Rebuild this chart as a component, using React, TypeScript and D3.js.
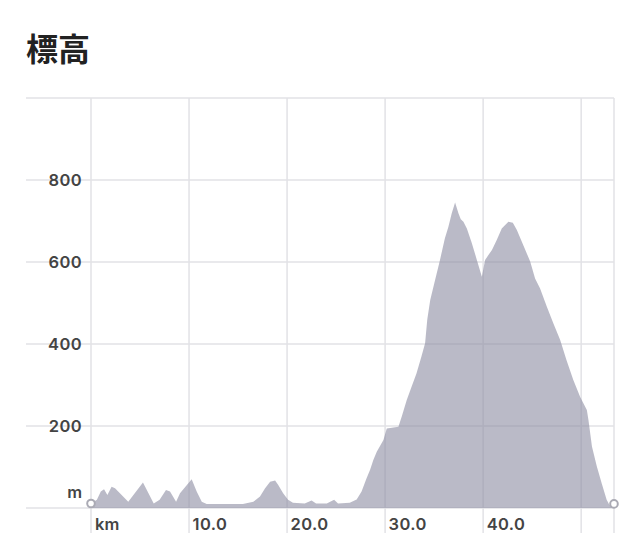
import React from "react";
import * as d3 from "d3";

const distanceKm = [0, 0.6, 1.0, 1.33, 1.67, 2.1, 2.45, 3.8, 5.3, 6.4, 7.0, 7.65, 8.06, 8.68, 9.08, 10.27, 10.78, 11.3, 11.8, 13.3, 15.5, 16.56, 17.24, 17.76, 18.27, 18.78, 19.1, 19.6, 20.1, 20.6, 21.8, 22.5, 22.96, 24.05, 24.8, 25.2, 26.4, 27.1, 27.6, 28.1, 28.47, 28.8, 29.15, 29.83, 30.17, 31.36, 31.7, 32.2, 32.7, 33.2, 33.7, 34.08, 34.3, 34.6, 34.77, 35.1, 35.6, 36.1, 36.46, 36.8, 37.14, 37.48, 37.72, 37.99, 38.34, 38.85, 39.36, 39.87, 40.2, 40.54, 40.9, 41.4, 41.9, 42.58, 43.03, 43.44, 44.1, 44.8, 45.3, 45.8, 46.5, 47.17, 47.86, 48.5, 49.2, 49.9, 50.58, 50.74, 51.1, 51.6, 52.1, 52.6, 52.9, 53.35];
const elevationM = [11, 20, 40, 46, 32, 52, 48, 15, 62, 11, 20, 44, 40, 15, 36, 70, 40, 15, 10, 10, 10, 15, 28, 48, 64, 67, 56, 36, 20, 13, 11, 18, 11, 11, 20, 11, 13, 21, 40, 72, 93, 117, 137, 166, 194, 198, 223, 263, 296, 328, 369, 402, 459, 507, 524, 556, 605, 658, 686, 719, 745, 719, 704, 698, 682, 646, 605, 564, 605, 617, 629, 654, 682, 698, 696, 678, 641, 601, 560, 536, 491, 450, 410, 361, 312, 271, 239, 215, 150, 101, 60, 20, 7, 10];

const yTicks = [200, 400, 600, 800, 1000];
const yTickLabels = ["200", "400", "600", "800", ""];
const xTicks = [10, 20, 30, 40, 50];
const xTickLabels = ["10.0", "20.0", "30.0", "40.0", ""];
const title = "標高";
const xUnit = "km";
const yUnit = "m";

export default function App() {
  const W = 640, H = 558;
  const x = d3.scaleLinear().domain([0, 53.35]).range([91, 614]);
  const y = d3.scaleLinear().domain([0, 1000]).range([508, 98]);
  const pts = distanceKm.map((d, i) => [d, elevationM[i]] as [number, number]);
  const area = d3.area<[number, number]>().x(d => x(d[0])).y0(y(0)).y1(d => y(d[1]));
  const gridColor = "#e2e2e6";
  const labelFont = "Inter, 'Noto Sans', sans-serif";
  const fs = 16.5;
  const first = pts[0], last = pts[pts.length - 1];
  return (
    <div style={{ position: "absolute", left: 0, top: 0 }}>
      <svg width={W} height={H} style={{ display: "block" }}>
        <rect width={W} height={H} fill="#fff" />
        <text x={26} y={61} fontFamily="'Noto Sans CJK JP', sans-serif" fontWeight={700} fontSize={32} fill="#222">{title}</text>
        {[0, ...yTicks].map(t => (
          <line key={"h" + t} x1={26} x2={614} y1={y(t)} y2={y(t)} stroke={gridColor} strokeWidth={1.5} />
        ))}
        {[0, ...xTicks, 53.35].map(t => (
          <line key={"v" + t} x1={x(t)} x2={x(t)} y1={y(1000)} y2={533} stroke={gridColor} strokeWidth={1.5} />
        ))}
        <path d={area(pts) || ""} fill="#8c8ca2" fillOpacity={0.6} />
        {yTicks.map((t, i) => (
          <text key={"yl" + t} x={82} y={y(t)} dy="0.36em" textAnchor="end" fontFamily={labelFont} fontWeight={600} fontSize={fs} letterSpacing={0.4} fill="#444">{yTickLabels[i]}</text>
        ))}
        <text x={82} y={498} textAnchor="end" fontFamily={labelFont} fontWeight={600} fontSize={fs} fill="#444">{yUnit}</text>
        {xTicks.map((t, i) => (
          <text key={"xl" + t} x={x(t) + 3.5} y={530} fontFamily={labelFont} fontWeight={600} fontSize={fs} letterSpacing={0.4} fill="#444">{xTickLabels[i]}</text>
        ))}
        <text x={x(0) + 4} y={530} fontFamily={labelFont} fontWeight={600} fontSize={fs} fill="#444">{xUnit}</text>
        <circle cx={x(first[0])} cy={y(first[1])} r={3.8} fill="#fff" stroke="#aaaab4" strokeWidth={2} />
        <circle cx={x(last[0])} cy={y(last[1])} r={3.8} fill="#fff" stroke="#aaaab4" strokeWidth={2} />
      </svg>
    </div>
  );
}
